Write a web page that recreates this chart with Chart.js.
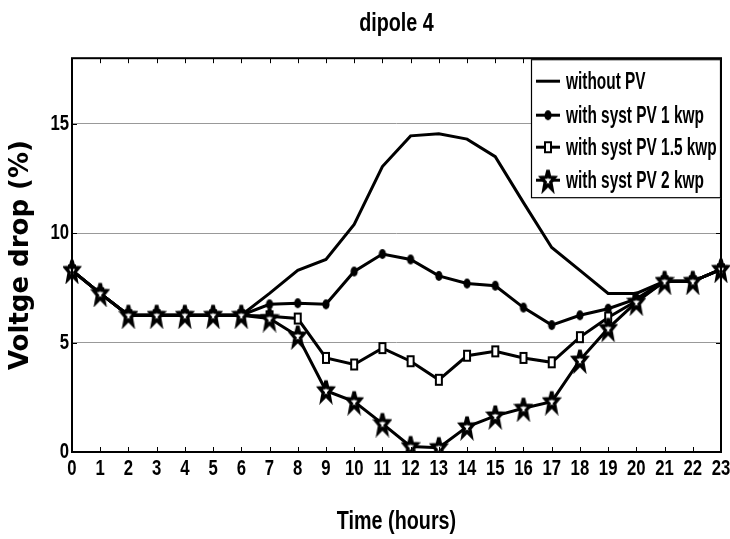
<!DOCTYPE html>
<html>
<head>
<meta charset="utf-8">
<script src="https://cdn.jsdelivr.net/npm/chart.js@4.4.1/dist/chart.umd.min.js"></script>
<style>
  html, body { margin: 0; padding: 0; background: #fff; }
  #wrap { width: 730px; height: 539px; }
</style>
</head>
<body>
<div id="wrap"><canvas id="c" width="730" height="539"></canvas></div>
<script>
// Hour of day on the x axis
const hours = ['0','1','2','3','4','5','6','7','8','9','10','11','12','13','14','15','16','17','18','19','20','21','22','23'];

// Voltage drop (%) per hour for each case
const withoutPV = [8.3, 7.25, 6.25, 6.25, 6.25, 6.25, 6.25, 7.25, 8.3, 8.8, 10.4, 13.05, 14.45, 14.55, 14.3, 13.5, 11.4, 9.35, 8.3, 7.25, 7.25, 7.8, 7.8, 8.35];
const pv1kwp    = [8.3, 7.25, 6.25, 6.25, 6.25, 6.25, 6.25, 6.75, 6.8, 6.75, 8.25, 9.05, 8.8, 8.05, 7.7, 7.6, 6.6, 5.8, 6.25, 6.55, 7.0, 7.8, 7.8, 8.35];
const pv15kwp   = [8.3, 7.25, 6.25, 6.25, 6.25, 6.25, 6.25, 6.2, 6.1, 4.3, 4.0, 4.75, 4.15, 3.3, 4.4, 4.6, 4.3, 4.1, 5.25, 6.15, 6.9, 7.8, 7.8, 8.35];
const pv2kwp    = [8.3, 7.25, 6.25, 6.25, 6.25, 6.25, 6.25, 6.1, 5.3, 2.8, 2.3, 1.3, 0.25, 0.2, 1.15, 1.65, 2.0, 2.3, 4.2, 5.65, 6.85, 7.8, 7.8, 8.35];

// Labelled ticks on the voltage-drop axis
const yTicks = [0, 5, 10, 15];

const seriesNames = ['without PV', 'with syst PV 1 kwp', 'with syst PV 1.5 kwp', 'with syst PV 2 kwp'];

// Condensed bold face: Liberation Sans drawn with a horizontal squeeze
const NARROW = "'Liberation Sans', Arial, sans-serif";
let textSqueeze = 0.76;

const canvas = document.getElementById('c');
const ctx2d = canvas.getContext('2d');
(function condenseText(ctx) {
  const proto = CanvasRenderingContext2D.prototype;
  const isNarrow = c => c.font.indexOf('Liberation Sans') >= 0;
  ctx.fillText = function (text, x, y, maxWidth) {
    if (!isNarrow(this)) return proto.fillText.call(this, text, x, y, maxWidth);
    this.save();
    this.translate(x, y);
    this.scale(textSqueeze, 1);
    proto.fillText.call(this, text, 0, 0);
    this.restore();
  };
  ctx.measureText = function (text) {
    const m = proto.measureText.call(this, text);
    if (!isNarrow(this)) return m;
    return {
      width: m.width * textSqueeze,
      actualBoundingBoxAscent: m.actualBoundingBoxAscent,
      actualBoundingBoxDescent: m.actualBoundingBoxDescent,
      actualBoundingBoxLeft: m.actualBoundingBoxLeft * textSqueeze,
      actualBoundingBoxRight: m.actualBoundingBoxRight * textSqueeze
    };
  };
})(ctx2d);

// ---- marker sprites (tall, narrow shapes) ----
function makeStar() {
  const cv = document.createElement('canvas');
  cv.width = 20; cv.height = 28;
  const g = cv.getContext('2d');
  const cx = 10, cy = 14.5, R = 10.5, r = 4.4, sx = 0.66;
  g.beginPath();
  for (let i = 0; i < 10; i++) {
    const a = -Math.PI / 2 + i * Math.PI / 5;
    const rad = i % 2 === 0 ? R : r;
    const px = cx + rad * Math.cos(a) * sx, py = cy + rad * Math.sin(a);
    if (i === 0) g.moveTo(px, py); else g.lineTo(px, py);
  }
  g.closePath();
  g.fillStyle = '#fff';
  g.fill();
  g.lineWidth = 3.4;
  g.lineJoin = 'miter';
  g.miterLimit = 4;
  g.strokeStyle = '#000';
  g.stroke();
  return cv;
}
function makeSquare() {
  const cv = document.createElement('canvas');
  cv.width = 10; cv.height = 14;
  const g = cv.getContext('2d');
  g.fillStyle = '#fff';
  g.fillRect(2, 2, 6, 10);
  g.lineWidth = 2;
  g.strokeStyle = '#000';
  g.strokeRect(2, 2, 6, 10);
  return cv;
}
function makeDot() {
  const cv = document.createElement('canvas');
  cv.width = 10; cv.height = 12;
  const g = cv.getContext('2d');
  g.beginPath();
  g.ellipse(5, 6, 3.6, 4.9, 0, 0, Math.PI * 2);
  g.fillStyle = '#000';
  g.fill();
  return cv;
}
const starImg = makeStar();
const squareImg = makeSquare();
const dotImg = makeDot();

// ---- frame, inward tick marks and boxed legend ----
const framePlugin = {
  id: 'frame',
  afterDatasetsDraw(chart) {
    const { ctx, chartArea: a, scales: { x, y } } = chart;
    ctx.save();
    ctx.strokeStyle = '#000';
    ctx.lineWidth = 1;
    ctx.beginPath();
    const tl = 5;
    hours.forEach((h, i) => {
      const px = Math.round(x.getPixelForValue(i)) + 0.5;
      ctx.moveTo(px, a.bottom); ctx.lineTo(px, a.bottom - tl);
      ctx.moveTo(px, a.top); ctx.lineTo(px, a.top + tl);
    });
    yTicks.forEach(v => {
      const py = Math.round(y.getPixelForValue(v)) + 0.5;
      ctx.moveTo(a.left, py); ctx.lineTo(a.left + tl, py);
      ctx.moveTo(a.right, py); ctx.lineTo(a.right - tl, py);
    });
    ctx.stroke();
    ctx.lineWidth = 2;
    ctx.strokeRect(a.left, a.top, a.right - a.left, a.bottom - a.top);
    ctx.restore();
  },
  afterDraw(chart) {
    const { ctx, chartArea: a } = chart;
    const w = 190, h = 139;
    const bx = a.right - w, by = a.top + 1;
    ctx.save();
    ctx.fillStyle = '#fff';
    ctx.fillRect(bx, by, w, h);
    ctx.strokeStyle = '#000';
    ctx.lineWidth = 1.2;
    ctx.strokeRect(bx + 0.5, by + 0.5, w - 1, h - 1);
    const rowY = [22, 56, 88, 121];
    const saved = textSqueeze;
    textSqueeze = 0.67;
    chart.data.datasets.forEach((ds, i) => {
      const cy = by + rowY[i];
      const x0 = bx + 5, x1 = bx + 29;
      ctx.strokeStyle = '#000';
      ctx.lineWidth = 3;
      ctx.beginPath();
      ctx.moveTo(x0, cy); ctx.lineTo(x1, cy);
      ctx.stroke();
      const img = ds.pointStyle;
      if (img && img.width && ds.pointRadius > 0) {
        ctx.drawImage(img, (x0 + x1) / 2 - img.width / 2, cy - img.height / 2);
      }
      ctx.fillStyle = '#000';
      ctx.font = "bold 23px " + NARROW;
      ctx.textBaseline = 'middle';
      ctx.textAlign = 'left';
      ctx.fillText(ds.label, x1 + 6, cy + 1);
    });
    textSqueeze = saved;
    ctx.restore();
  }
};

function lineSet(label, data, style, order) {
  return {
    label, data,
    borderColor: '#000',
    backgroundColor: '#000',
    borderWidth: 3,
    tension: 0,
    pointStyle: style || false,
    pointRadius: style ? 6 : 0,
    pointHoverRadius: style ? 6 : 0,
    order
  };
}

new Chart(canvas, {
  type: 'line',
  data: {
    labels: hours,
    datasets: [
      lineSet(seriesNames[0], withoutPV, null, 3),
      lineSet(seriesNames[1], pv1kwp, dotImg, 2),
      lineSet(seriesNames[2], pv15kwp, squareImg, 1),
      lineSet(seriesNames[3], pv2kwp, starImg, 0)
    ]
  },
  options: {
    responsive: false,
    animation: false,
    events: [],
    layout: { padding: { left: 0, right: 7, top: 0, bottom: 0 } },
    plugins: {
      legend: { display: false },
      tooltip: { enabled: false },
      title: {
        display: true,
        fullSize: false,
        text: 'dipole 4',
        color: '#000',
        font: { family: NARROW, size: 26, weight: 'bold', lineHeight: 1.2 },
        padding: { top: 8, bottom: 19 }
      }
    },
    scales: {
      x: {
        type: 'category',
        offset: false,
        grid: { display: false, drawTicks: false },
        border: { display: false },
        ticks: {
          color: '#000',
          font: { family: NARROW, size: 22, weight: 'bold' },
          padding: 4,
          maxRotation: 0,
          autoSkip: false
        },
        title: {
          display: true,
          text: 'Time (hours)',
          color: '#000',
          font: { family: NARROW, size: 26, weight: 'bold', lineHeight: 1.2 },
          padding: { top: 0, bottom: 2 }
        },
        afterFit(scale) {
          scale.height = 87;
          scale.paddingLeft = 0;
          scale.paddingRight = 0;
        }
      },
      y: {
        min: 0,
        max: 18,
        grid: { display: true, drawTicks: false, color: '#999', lineWidth: 1 },
        border: { display: false },
        afterBuildTicks(scale) { scale.ticks = yTicks.map(v => ({ value: v })); },
        ticks: {
          color: '#000',
          font: { family: NARROW, size: 22, weight: 'bold' },
          padding: 3
        },
        title: {
          display: true,
          text: 'Voltge drop (%)',
          color: '#000',
          font: { family: "'DejaVu Sans', sans-serif", size: 26, weight: 'bold', lineHeight: 1.2 },
          padding: { top: 6, bottom: 0 }
        },
        afterFit(scale) {
          scale.width = 72;
          scale.paddingTop = 0;
          scale.paddingBottom = 0;
        }
      }
    }
  },
  plugins: [framePlugin]
});
</script>
</body>
</html>
